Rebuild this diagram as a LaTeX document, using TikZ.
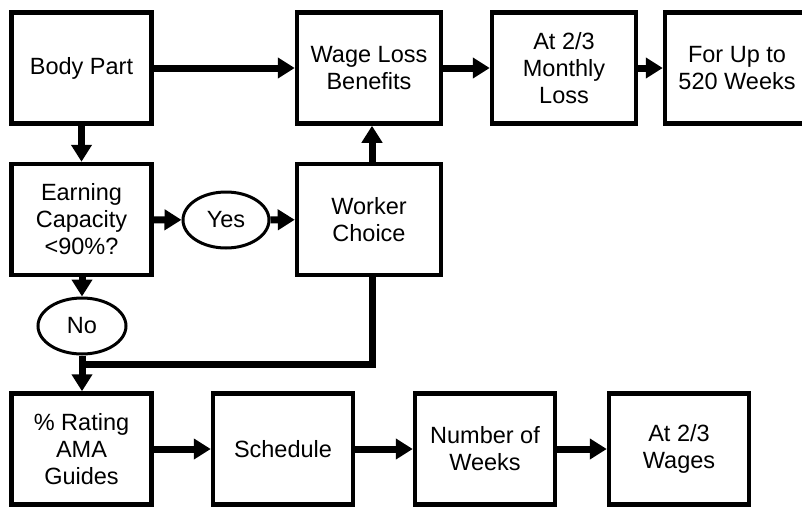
\documentclass[tikz,border=0pt]{standalone}
\usepackage{fontspec}
\setmainfont{Liberation Sans}
\usetikzlibrary{arrows.meta,shapes.geometric}
\begin{document}
\begin{tikzpicture}[x=1pt,y=-1pt,
  box/.style={draw=black, line width=4.5pt, minimum width=140pt, minimum height=111pt,
    inner sep=0pt, align=center, font=\fontsize{23.5}{27}\selectfont},
  oval/.style={draw=black, line width=3pt, ellipse, minimum width=86pt, minimum height=56pt,
    inner sep=0pt, font=\fontsize{23.5}{27}\selectfont},
  arr/.style={line width=7pt, -{Triangle[length=17pt,width=20pt]}},
  link/.style={line width=7pt}]
\useasboundingbox (0,0) rectangle (802,506);
\fill[white] (0,0) rectangle (802,506);

% top row
\node[box] (body)    at (81.5,68)  {Body Part};
\node[box, minimum width=144pt] (wage)    at (369,68)   {Wage Loss\\Benefits};
\node[box, minimum width=144pt] (monthly) at (564,68)   {At 2/3\\Monthly\\Loss};
\node[box, minimum width=144pt] (upto)    at (737,68)   {For Up to\\520 Weeks};

% middle row
\node[box] (earn)   at (81.5,219.5) {Earning\\Capacity\\<90\%?};
\node[oval] (yes)   at (226,220)    {Yes};
\node[box, minimum width=144pt] (worker) at (369,219.5) {Worker\\Choice};
\node[oval, minimum width=88pt] (no) at (82,326) {No};

% bottom row
\node[box] (rating) at (81.5,449) {\% Rating\\AMA\\Guides};
\node[box] (sched)  at (283,449)  {Schedule};
\node[box] (weeks)  at (485,449)  {Number of\\Weeks};
\node[box] (wages)  at (679,449)  {At 2/3\\Wages};

\coordinate (join) at (82,364);

% connectors
\draw[arr] (body) -- (wage);
\draw[arr] (wage) -- (monthly);
\draw[arr] (monthly) -- (upto);
\draw[arr] (body) -- (earn);
\draw[arr] (earn) -- (yes);
\draw[arr] (yes) -- (worker);
\draw[arr] (worker.north -| 372,0) -- (wage.south -| 372,0);
\draw[arr] (earn.south -| no) -- (no.north);
\draw[arr] (no.south) -- (rating.north -| no);
\draw[link] (worker.south -| 372,0) |- (join);
\draw[arr] (rating) -- (sched);
\draw[arr] (sched) -- (weeks);
\draw[arr] (weeks) -- (wages);
\end{tikzpicture}
\end{document}
